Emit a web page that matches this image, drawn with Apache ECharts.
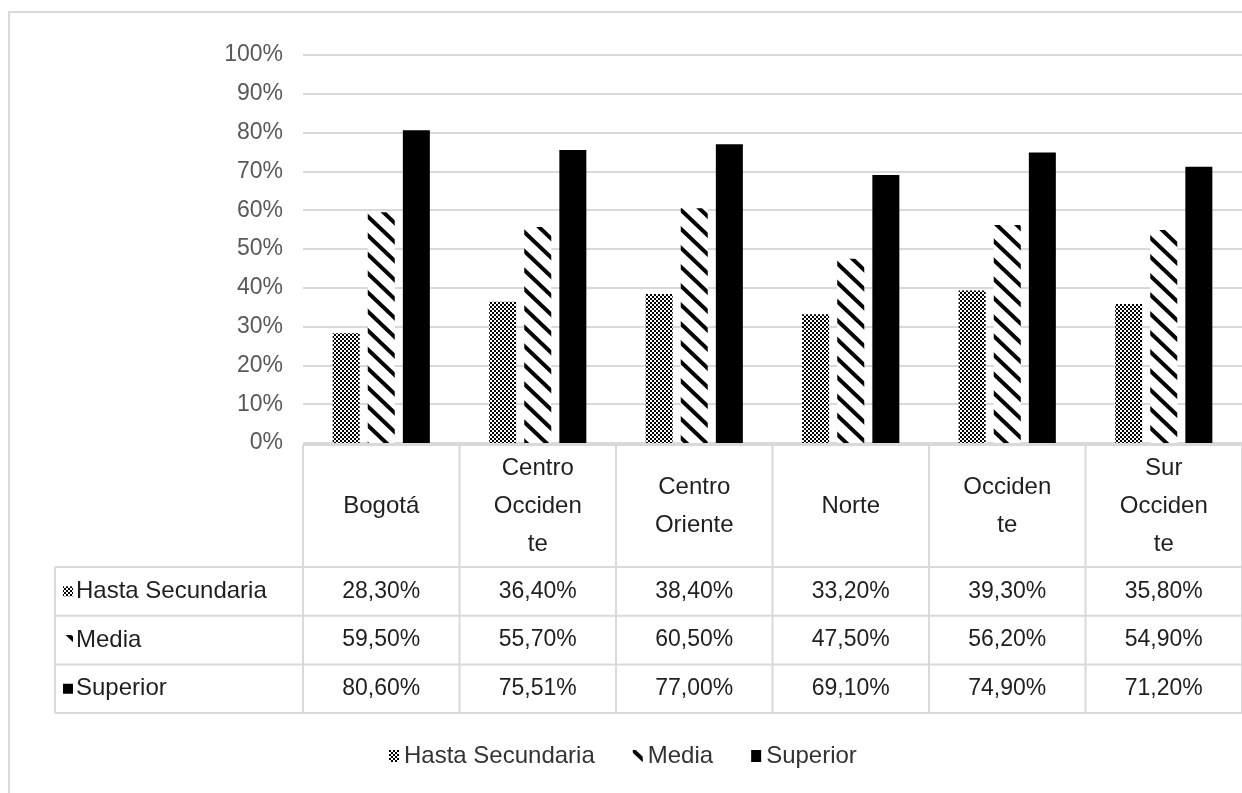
<!DOCTYPE html>
<html>
<head>
<meta charset="utf-8">
<title>Nivel educativo por región</title>
<script src="https://cdn.jsdelivr.net/npm/echarts@6/dist/echarts.min.js"></script>
<style>
  html, body { margin: 0; padding: 0; background: #ffffff; }
  #chart { width: 1242px; height: 793px; }
</style>
</head>
<body>
<div id="chart"></div>
<script>
// Regions (header cells of the data table) and the three education levels, in %
const categories = ['Bogotá', 'Centro\nOcciden\nte', 'Centro\nOriente', 'Norte', 'Occiden\nte', 'Sur\nOcciden\nte'];
const seriesNames = ['Hasta Secundaria', 'Media', 'Superior'];
const hastaSecundaria = [28.3, 36.4, 38.4, 33.2, 39.3, 35.8];
const media = [59.5, 55.7, 60.5, 47.5, 56.2, 54.9];
const superior = [80.6, 75.51, 77.0, 69.1, 74.9, 71.2];
const yTicks = [0, 10, 20, 30, 40, 50, 60, 70, 80, 90, 100];

const FONT = '"Liberation Sans", Arial, sans-serif';
const GRID_COLOR = '#d9d9d9';
const TEXT_DARK = '#1f1f1f';
const TEXT_AXIS = '#595959';

// Fill patterns
function checkerPattern() {
  const c = document.createElement('canvas');
  c.width = 4; c.height = 4;
  const g = c.getContext('2d');
  g.fillStyle = '#ffffff'; g.fillRect(0, 0, 4, 4);
  g.fillStyle = '#000000';
  g.fillRect(0, 0, 2, 2);
  g.fillRect(2, 2, 2, 2);
  return { image: c, repeat: 'repeat' };
}
function diagonalPattern() {
  const W = 20, H = 19;
  const c = document.createElement('canvas');
  c.width = W; c.height = H;
  const g = c.getContext('2d');
  g.fillStyle = '#ffffff'; g.fillRect(0, 0, W, H);
  g.strokeStyle = '#000000';
  g.lineWidth = 4;
  for (let k = -1; k <= 1; k++) {
    g.beginPath();
    g.moveTo(k * W - W, -H);
    g.lineTo(k * W + 2 * W, 2 * H);
    g.stroke();
  }
  return { image: c, repeat: 'repeat' };
}
const fills = [checkerPattern(), diagonalPattern(), '#000000'];
const values = [hastaSecundaria, media, superior];

function fmt(v) {
  return v.toFixed(2).replace('.', ',') + '%';
}

const chart = echarts.init(document.getElementById('chart'), null, { renderer: 'canvas' });

const option = {
  backgroundColor: '#ffffff',
  animation: false,
  textStyle: { fontFamily: FONT },
  grid: { left: 303, top: 55, width: 941, height: 388, containLabel: false },
  legend: {
    left: 384,
    top: 739,
    itemWidth: 10,
    itemHeight: 12,
    itemGap: 38,
    icon: 'rect',
    textStyle: { fontFamily: FONT, fontSize: 24, color: '#333333' },
    data: seriesNames
  },
  xAxis: {
    type: 'category',
    data: categories,
    axisLine: { show: false },
    axisTick: { show: false },
    axisLabel: {
      interval: 0,
      margin: 63,
      verticalAlign: 'middle',
      lineHeight: 38,
      fontFamily: FONT,
      fontSize: 24,
      color: TEXT_DARK
    }
  },
  yAxis: {
    type: 'value',
    min: yTicks[0],
    max: yTicks[yTicks.length - 1],
    interval: yTicks[1] - yTicks[0],
    axisLine: { show: false },
    axisTick: { show: false },
    axisLabel: {
      margin: 20,
      fontFamily: FONT,
      fontSize: 23,
      color: TEXT_AXIS,
      formatter: v => v + '%'
    },
    splitLine: { lineStyle: { color: GRID_COLOR, width: 2 } }
  },
  series: seriesNames.map((name, i) => ({
    name: name,
    type: 'bar',
    data: values[i],
    barWidth: 27,
    barGap: '30%',
    itemStyle: { color: fills[i] }
  }))
};

chart.setOption(option);

// Data table under the plot, laid out from the category axis positions
(function buildTable() {
  const n = categories.length;
  const c0 = chart.convertToPixel({ xAxisIndex: 0 }, 0);
  const c1 = chart.convertToPixel({ xAxisIndex: 0 }, 1);
  const band = c1 - c0;
  const colLeft = i => chart.convertToPixel({ xAxisIndex: 0 }, i) - band / 2;
  const tableRight = colLeft(n - 1) + band;
  const base = chart.convertToPixel({ yAxisIndex: 0 }, 0);

  const headerTop = base + 2;
  const headerBottom = base + 124;
  const rowH = 48.7;
  const tableLeft = 55;
  const els = [];
  const line = (x1, y1, x2, y2) => els.push({
    type: 'line', silent: true,
    shape: { x1, y1, x2, y2 },
    style: { stroke: GRID_COLOR, lineWidth: 2 }
  });

  // horizontal rules
  line(colLeft(0), headerTop, tableRight, headerTop);
  for (let r = 0; r <= seriesNames.length; r++) {
    const y = headerBottom + r * rowH;
    line(tableLeft, y, tableRight, y);
  }
  const tableBottom = headerBottom + seriesNames.length * rowH;
  // vertical rules
  line(tableLeft, headerBottom, tableLeft, tableBottom);
  for (let i = 0; i <= n; i++) {
    const x = i < n ? colLeft(i) : tableRight;
    line(x, headerTop, x, tableBottom);
  }

  seriesNames.forEach((name, r) => {
    const cy = headerBottom + r * rowH + rowH / 2;
    // key swatch
    els.push({
      type: 'rect', silent: true,
      shape: { x: 63, y: cy - 5, width: 10, height: 10 },
      style: { fill: fills[r] }
    });
    els.push({
      type: 'text', silent: true,
      x: 76, y: cy,
      style: {
        text: name, fill: TEXT_DARK, font: '24px ' + FONT,
        textAlign: 'left', textVerticalAlign: 'middle'
      }
    });
    values[r].forEach((v, i) => {
      els.push({
        type: 'text', silent: true,
        x: chart.convertToPixel({ xAxisIndex: 0 }, i), y: cy,
        style: {
          text: fmt(v), fill: TEXT_DARK, font: '23px ' + FONT,
          textAlign: 'center', textVerticalAlign: 'middle'
        }
      });
    });
  });

  // outer chart frame
  els.push({
    type: 'rect', silent: true, z: -1,
    shape: { x: 9, y: 12, width: 1260, height: 800 },
    style: { fill: 'none', stroke: GRID_COLOR, lineWidth: 2 }
  });

  chart.setOption({ graphic: { elements: els } });
})();
</script>
</body>
</html>
